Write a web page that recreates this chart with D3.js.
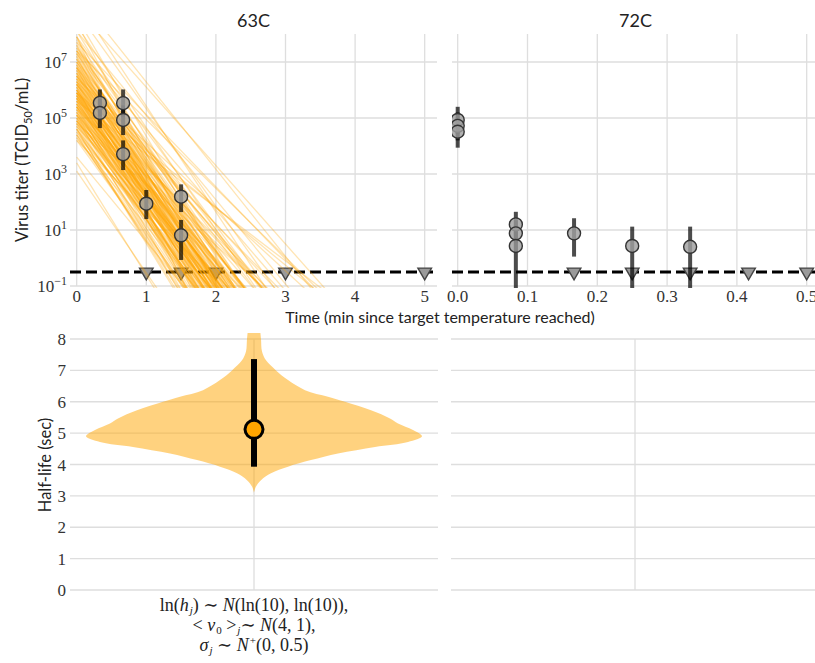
<!DOCTYPE html>
<html>
<head>
<meta charset="utf-8">
<script src="https://cdn.jsdelivr.net/npm/d3@7"></script>
<style>
  body { margin: 0; background: #fff; }
  svg { display: block; }
</style>
</head>
<body>
<svg id="chart" width="815" height="663"></svg>
<script>
// ---------- data ----------
const panelTitles = ["63C", "72C"];
const ticks63 = [0, 1, 2, 3, 4, 5];
const ticks72 = [0, 0.1, 0.2, 0.3, 0.4, 0.5];
const titerTickExps = [-1, 1, 3, 5, 7];
const halfLifeTicks = [0, 1, 2, 3, 4, 5, 6, 7, 8];
const detectionLimitLog = -0.5;

// 63C observations (time in min, log10 titer, log10 interval)
const obs63Time = [0.333, 0.333, 0.667, 0.667, 0.667, 1.0, 1.5, 1.5];
const obs63Log  = [5.54, 5.18, 5.53, 4.93, 3.71, 1.94, 2.19, 0.81];
const obs63Lo   = [5.05, 4.64, 5.05, 4.39, 3.14, 1.39, 1.64, -0.07];
const obs63Hi   = [6.02, 5.68, 6.02, 5.45, 4.20, 2.43, 2.63, 1.36];
const nd63Time  = [1, 1.5, 2, 3, 5];

// 72C observations
const obs72Time = [0, 0, 0, 0.0833, 0.0833, 0.0833, 0.1667, 0.25, 0.333];
const obs72Log  = [4.93, 4.72, 4.51, 1.20, 0.88, 0.43, 0.88, 0.43, 0.40];
const obs72Lo   = [4.43, 4.20, 3.94, 0.55, 0.20, -1.5, 0.05, -1.5, -1.5];
const obs72Hi   = [5.40, 5.20, 5.00, 1.65, 1.35, 0.95, 1.42, 1.12, 1.12];
const nd72Time  = [0.1667, 0.25, 0.333, 0.4167, 0.5];

// posterior draws for 63C: half-life (sec) and log10 initial titer
const drawHalfLife = [
  3.3, 3.6, 3.8, 3.85,
  3.95, 4.0, 4.05, 4.1, 4.15, 4.2, 4.22, 4.25, 4.3, 4.3, 4.35, 4.38, 4.4, 4.42, 4.45, 4.46, 4.48, 4.5, 4.5, 4.5,
  4.55, 4.57, 4.6, 4.62, 4.64, 4.66, 4.68, 4.7, 4.72, 4.74, 4.76, 4.78, 4.8, 4.82, 4.84, 4.85, 4.87, 4.88, 4.9, 4.91,
  4.92, 4.93, 4.94, 4.95, 4.96, 4.97, 4.98, 4.99, 5.0, 5.0,
  5.02, 5.04, 5.06, 5.08, 5.1, 5.12, 5.14, 5.16, 5.18, 5.2, 5.22, 5.24, 5.26, 5.28, 5.3, 5.32, 5.34, 5.36, 5.38, 5.4,
  5.42, 5.44, 5.46, 5.48, 5.5,
  5.53, 5.56, 5.6, 5.63, 5.66, 5.7, 5.73, 5.76, 5.8, 5.83, 5.86, 5.9, 5.92, 5.95, 5.97, 6.0, 6.0,
  6.05, 6.1, 6.15, 6.2, 6.25, 6.3, 6.35, 6.4, 6.45, 6.5,
  6.6, 6.7, 6.8, 6.9, 7.0, 7.05, 7.1, 7.2, 7.3, 7.35,
  7.6, 7.9, 8.3, 8.8, 9.5,
  4.3, 4.5, 4.6, 4.7, 4.75, 4.8, 4.85, 4.9, 4.95, 5.0, 5.05, 5.1, 5.15, 5.2, 5.25, 5.3, 5.35, 5.4, 5.5, 5.6,
  5.7, 5.8, 5.9, 6.1, 6.3, 4.4, 4.65, 4.88, 5.02, 5.18, 5.45, 5.65, 6.2, 6.6, 4.2, 4.78, 5.08, 5.55, 5.85, 7.0
];
const drawLogV0 = [
  7.9, 6.8, 7.6, 8.4,
  7.2, 6.1, 7.9, 6.6, 5.4, 7.4, 6.9, 8.6, 6.3, 7.0, 5.9, 7.7, 6.5, 4.6, 7.1, 6.0, 8.1, 6.7, 3.4, 7.3,
  6.2, 7.0, 5.6, 6.8, 7.6, 5.1, 6.4, 6.9, 5.8, 7.3, 6.1, 9.2, 6.6, 5.4, 7.1, 6.3, 4.4, 6.7, 7.8, 5.9,
  6.5, 7.2, 5.2, 6.0, 8.3, 6.4, 3.1, 6.8, 5.7, 7.5,
  6.3, 5.5, 7.0, 6.0, 6.6, 4.9, 7.4, 5.8, 6.2, 8.8, 5.3, 6.8, 6.1, 4.2, 7.1, 5.7, 6.4, 7.9, 5.0, 6.5,
  5.9, 6.9, 4.6, 6.2, 7.3,
  5.6, 6.7, 5.1, 6.2, 7.4, 5.8, 4.3, 6.5, 9.4, 5.4, 6.0, 7.0, 4.8, 6.3, 5.7, 8.1, 3.6,
  5.9, 6.8, 4.9, 5.5, 7.5, 6.2, 4.4, 5.8, 8.9, 6.5,
  5.4, 6.6, 4.7, 5.9, 7.7, 5.1, 6.3, 4.2, 5.7, 7.4,
  5.3, 6.4, 4.8, 5.9, 5.6,
  5.0, 4.6, 5.3, 4.8, 5.5, 4.4, 5.1, 5.6, 4.7, 5.2, 4.5, 5.4, 4.9, 5.7, 4.3, 5.0, 5.5, 4.8, 5.2, 4.6,
  5.3, 4.9, 4.5, 5.1, 4.7, 5.8, 6.0, 5.9, 6.1, 5.6, 5.9, 5.4, 5.2, 4.9, 5.7, 6.2, 5.8, 6.0, 5.5, 5.0
];

// half-life posterior density profile (sec, relative density)
const violinHalfLife = [3.1, 3.3, 3.5, 3.72, 3.93, 4.14, 4.35, 4.56, 4.72, 4.9, 5.1, 5.31, 5.47, 5.73, 6.0, 6.16, 6.37, 6.69, 7.0, 7.32, 7.6, 8.0, 8.3, 8.7, 9.2, 9.5];
const violinDensity  = [0, 2, 7, 17, 34, 57, 84, 121, 154, 168, 159, 144, 136, 117, 91, 74, 51, 34, 22, 12, 8, 7, 6, 4, 2, 0];
const halfLifeMedian = 5.12;
const halfLifeLo = 3.93;
const halfLifeHi = 7.36;

const priorLines = [
  [{t: "ln("}, {t: "h", i: 1}, {t: "j", i: 1, s: "sub"}, {t: ") \u223C "}, {t: "N", i: 1}, {t: "(ln(10), ln(10)),"}],
  [{t: "< "}, {t: "v", i: 1}, {t: "0", s: "sub"}, {t: " >"}, {t: "j", i: 1, s: "sub"}, {t: "\u223C "}, {t: "N", i: 1}, {t: "(4, 1),"}],
  [{t: "\u03C3", i: 1}, {t: "j", i: 1, s: "sub"}, {t: " \u223C "}, {t: "N", i: 1}, {t: "+", s: "sup"}, {t: "(0, 0.5)"}]
];

// ---------- styling ----------
const SANS = "Lato, 'Open Sans', sans-serif";
const SERIF = "'Liberation Serif', 'DejaVu Serif', serif";
const GRID = "#dedede";
const ORANGE = "#ffa500";

const svg = d3.select("#chart");

// ---------- scales ----------
const x63 = d3.scaleLinear().domain([0, 5]).range([76.7, 424.7]);
const x72 = d3.scaleLinear().domain([0, 0.5]).range([457.7, 806.7]);
const yTiter = d3.scaleLog().domain([1e-1, 1e8]).range([286, 34]);
const yHalf = d3.scaleLinear().domain([0, 8]).range([590, 339]);

const top63 = {x: x63, left: 70, right: 437, ticks: ticks63, fmt: d3.format("d"), title: panelTitles[0]};
const top72 = {x: x72, left: 452, right: 819, ticks: ticks72, fmt: d3.format(".1f"), title: panelTitles[1]};

function drawTopGrid(p) {
  const g = svg.append("g");
  g.selectAll("line.h").data(titerTickExps).join("line")
    .attr("x1", p.left).attr("x2", p.right)
    .attr("y1", d => yTiter(10 ** d)).attr("y2", d => yTiter(10 ** d))
    .attr("stroke", GRID).attr("stroke-width", 1.3);
  g.selectAll("line.v").data(p.ticks).join("line")
    .attr("x1", d => p.x(d)).attr("x2", d => p.x(d))
    .attr("y1", yTiter.range()[1]).attr("y2", yTiter.range()[0])
    .attr("stroke", GRID).attr("stroke-width", 1.3);
  g.selectAll("text.xt").data(p.ticks).join("text")
    .attr("x", d => p.x(d)).attr("y", 302)
    .attr("text-anchor", "middle")
    .style("font-family", SERIF).style("font-size", "17px").attr("fill", "#333")
    .text(d => p.fmt(d));
  svg.append("text")
    .attr("x", (p.left + p.right) / 2).attr("y", 27)
    .attr("text-anchor", "middle")
    .style("font-family", SANS).style("font-size", "18px").attr("fill", "#222")
    .text(p.title);
}
drawTopGrid(top63);
drawTopGrid(top72);

// y tick labels (powers of ten)
const yt = svg.append("g").selectAll("text").data(titerTickExps).join("text")
  .attr("x", 67).attr("y", d => yTiter(10 ** d) + 6)
  .attr("text-anchor", "end")
  .style("font-family", SERIF).style("font-size", "17px").attr("fill", "#333");
yt.append("tspan").text("10");
yt.append("tspan").attr("dy", -7).style("font-size", "12px")
  .text(d => d < 0 ? "\u2212" + Math.abs(d) : d);

// clip regions
const defs = svg.append("defs");
[["clip63", top63], ["clip72", top72]].forEach(([id, p]) => {
  defs.append("clipPath").attr("id", id).append("rect")
    .attr("x", p.left).attr("y", yTiter.range()[1])
    .attr("width", p.right - p.left).attr("height", yTiter.range()[0] - yTiter.range()[1] + 2);
});

// detection limit and non-detects
function drawDetection(p, ndTimes, clipId) {
  const g = svg.append("g").attr("clip-path", `url(#${clipId})`);
  g.append("line")
    .attr("x1", p.left).attr("x2", p.right)
    .attr("y1", yTiter(10 ** detectionLimitLog)).attr("y2", yTiter(10 ** detectionLimitLog))
    .attr("stroke", "#000").attr("stroke-width", 2.8).attr("stroke-dasharray", "11,5");
  const tri = d3.symbol().type(d3.symbolTriangle).size(80);
  g.selectAll("path.nd").data(ndTimes).join("path")
    .attr("d", tri)
    .attr("transform", d => `translate(${p.x(d)},${yTiter(10 ** detectionLimitLog)}) rotate(180)`)
    .attr("fill", "#9a9a9a").attr("stroke", "#444").attr("stroke-width", 1.4);
}
drawDetection(top63, nd63Time, "clip63");
drawDetection(top72, nd72Time, "clip72");

// posterior decay lines for 63C
const tMax = 5.2;
const fitG = svg.append("g").attr("clip-path", "url(#clip63)");
fitG.selectAll("line").data(d3.range(drawHalfLife.length)).join("line")
  .attr("x1", x63(0))
  .attr("y1", i => yTiter(10 ** drawLogV0[i]))
  .attr("x2", x63(tMax))
  .attr("y2", i => yTiter(10 ** (drawLogV0[i] - tMax * 60 * Math.log10(2) / drawHalfLife[i])))
  .attr("stroke", ORANGE).attr("stroke-width", 1.3).attr("stroke-opacity", 0.3);

// observed titers with intervals
function drawObs(p, times, vals, lo, hi, clipId) {
  const g = svg.append("g").attr("clip-path", `url(#${clipId})`);
  g.selectAll("line").data(d3.range(times.length)).join("line")
    .attr("x1", i => p.x(times[i])).attr("x2", i => p.x(times[i]))
    .attr("y1", i => yTiter(10 ** lo[i])).attr("y2", i => yTiter(10 ** hi[i]))
    .attr("stroke", "#000").attr("stroke-opacity", 0.7).attr("stroke-width", 4);
  g.selectAll("circle").data(d3.range(times.length)).join("circle")
    .attr("cx", i => p.x(times[i])).attr("cy", i => yTiter(10 ** vals[i]))
    .attr("r", 6.5)
    .attr("fill", "#a0a0a0").attr("fill-opacity", 0.82)
    .attr("stroke", "#333").attr("stroke-width", 1.4);
}
drawObs(top63, obs63Time, obs63Log, obs63Lo, obs63Hi, "clip63");
drawObs(top72, obs72Time, obs72Log, obs72Lo, obs72Hi, "clip72");

// axis titles (top)
svg.append("text")
  .attr("x", 440).attr("y", 323).attr("text-anchor", "middle")
  .style("font-family", SANS).style("font-size", "16px").attr("fill", "#222")
  .text("Time (min since target temperature reached)");
const ylab = svg.append("text")
  .attr("transform", "translate(28,160) rotate(-90)").attr("text-anchor", "middle")
  .style("font-family", SANS).style("font-size", "16.5px").attr("fill", "#222");
ylab.append("tspan").text("Virus titer (TCID");
ylab.append("tspan").attr("dy", 4).style("font-size", "11px").text("50");
ylab.append("tspan").attr("dy", -4).text("/mL)");

// ---------- bottom: half-life ----------
const bottomPanels = [{left: 70, right: 438}, {left: 451, right: 819}];
bottomPanels.forEach(p => {
  const g = svg.append("g");
  g.selectAll("line").data(halfLifeTicks).join("line")
    .attr("x1", p.left).attr("x2", p.right)
    .attr("y1", d => yHalf(d)).attr("y2", d => yHalf(d))
    .attr("stroke", GRID).attr("stroke-width", 1.3);
  g.append("line")
    .attr("x1", (p.left + p.right) / 2).attr("x2", (p.left + p.right) / 2)
    .attr("y1", yHalf(8)).attr("y2", yHalf(0))
    .attr("stroke", GRID).attr("stroke-width", 1.3);
});
svg.append("g").selectAll("text").data(halfLifeTicks).join("text")
  .attr("x", 66).attr("y", d => yHalf(d) + 6).attr("text-anchor", "end")
  .style("font-family", SERIF).style("font-size", "17px").attr("fill", "#333")
  .text(d => d);
svg.append("text")
  .attr("transform", "translate(51,465) rotate(-90)").attr("text-anchor", "middle")
  .style("font-family", SANS).style("font-size", "16.5px").attr("fill", "#222")
  .text("Half-life (sec)");

const vCenter = (bottomPanels[0].left + bottomPanels[0].right) / 2;
const vWidth = d3.scaleLinear().domain([0, d3.max(violinDensity)]).range([0, 168]);
defs.append("clipPath").attr("id", "clipV").append("rect")
  .attr("x", bottomPanels[0].left).attr("y", 333)
  .attr("width", bottomPanels[0].right - bottomPanels[0].left).attr("height", 270);
const violinArea = d3.area()
  .curve(d3.curveCatmullRom)
  .y(i => yHalf(violinHalfLife[i]))
  .x0(i => vCenter - vWidth(violinDensity[i]))
  .x1(i => vCenter + vWidth(violinDensity[i]));
svg.append("path")
  .attr("clip-path", "url(#clipV)")
  .attr("d", violinArea(d3.range(violinHalfLife.length)))
  .attr("fill", ORANGE).attr("fill-opacity", 0.5);
svg.append("line")
  .attr("x1", vCenter).attr("x2", vCenter)
  .attr("y1", yHalf(halfLifeLo)).attr("y2", yHalf(halfLifeHi))
  .attr("stroke", "#000").attr("stroke-width", 6);
svg.append("circle")
  .attr("cx", vCenter).attr("cy", yHalf(halfLifeMedian)).attr("r", 9)
  .attr("fill", ORANGE).attr("stroke", "#000").attr("stroke-width", 3);

// prior specification below the violin
priorLines.forEach((segs, li) => {
  const t = svg.append("text")
    .attr("x", vCenter).attr("y", 611 + li * 20).attr("text-anchor", "middle")
    .style("font-family", SERIF).style("font-size", "18px").attr("fill", "#222");
  let prev = 0;
  segs.forEach(s => {
    const off = s.s === "sub" ? 3 : s.s === "sup" ? -7 : 0;
    const ts = t.append("tspan").text(s.t).attr("dy", off - prev);
    if (s.i) ts.style("font-style", "italic");
    if (s.s) ts.style("font-size", "11px").attr("dx", 1);
    prev = off;
  });
});
</script>
</body>
</html>
